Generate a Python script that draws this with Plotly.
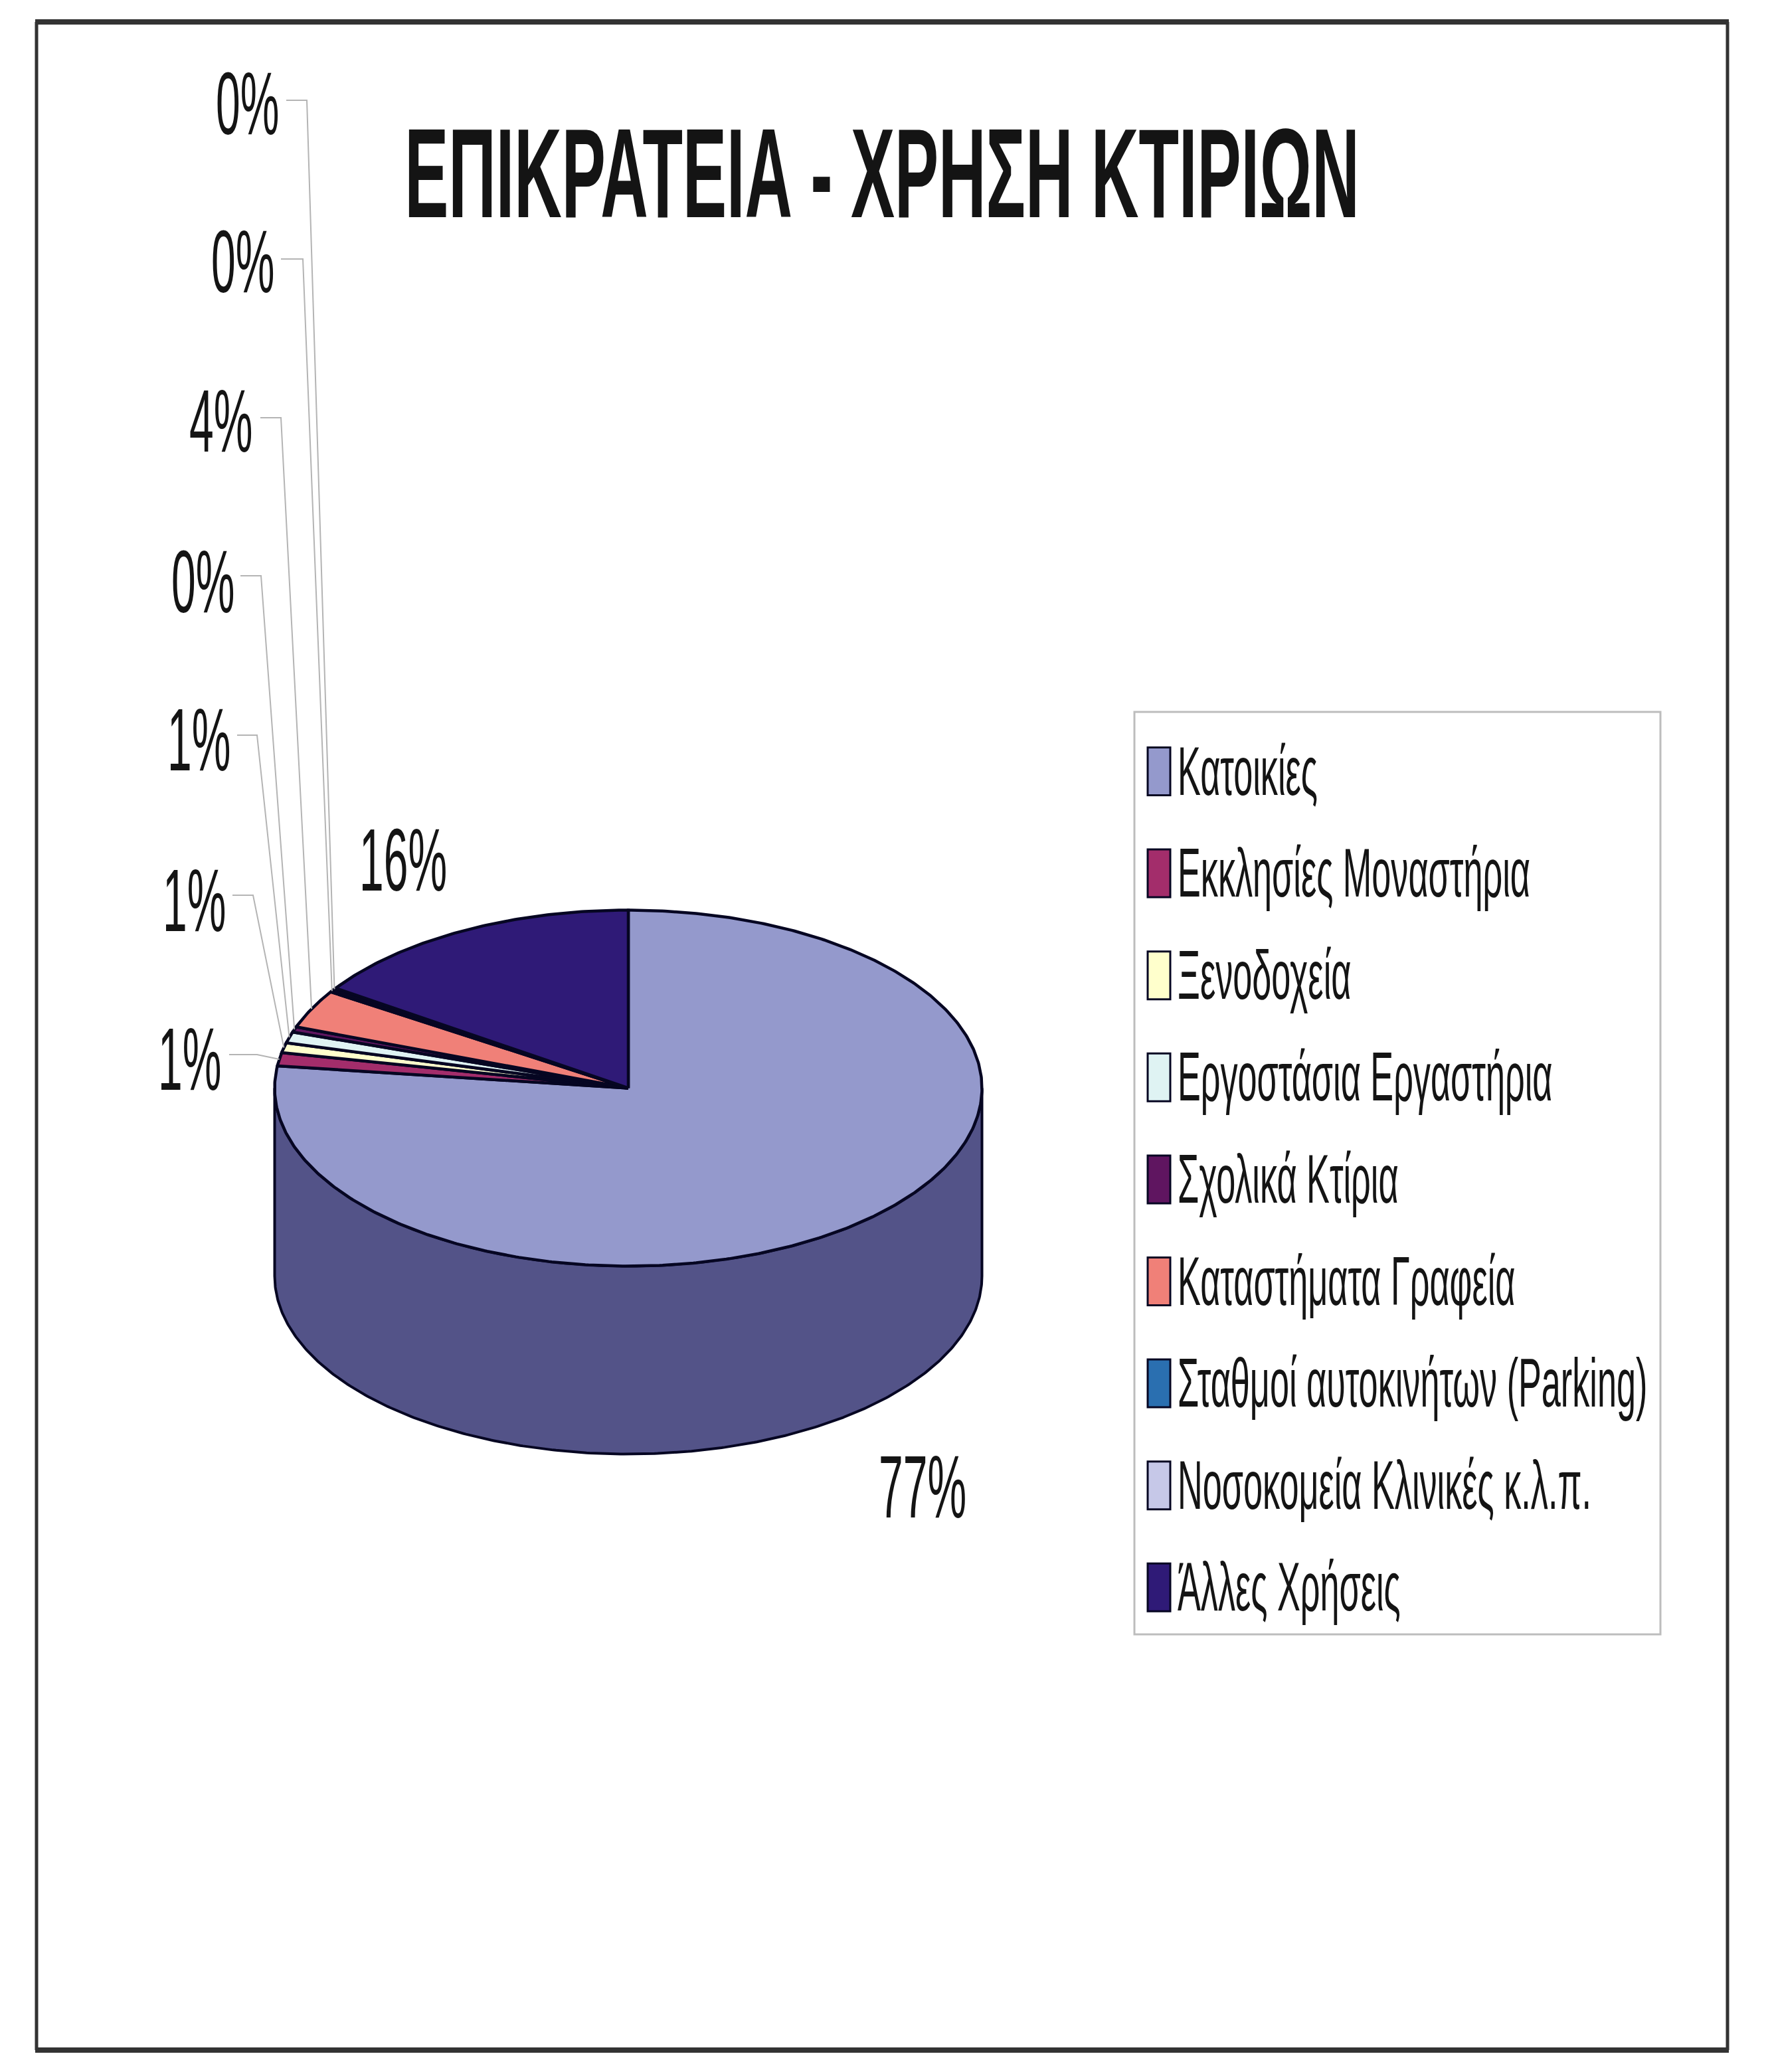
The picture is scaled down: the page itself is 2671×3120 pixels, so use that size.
import numpy as np
import plotly.graph_objects as go

W, H = 2671, 3120

# ---- data ----
categories = ["Κατοικίες", "Εκκλησίες Μοναστήρια", "Ξενοδοχεία", "Εργοστάσια Εργαστήρια",
              "Σχολικά Κτίρια", "Καταστήματα Γραφεία", "Σταθμοί αυτοκινήτων (Parking)",
              "Νοσοκομεία Κλινικές κ.λ.π.", "Άλλες Χρήσεις"]
values = [77.0, 1.2, 0.9, 1.0, 0.49, 3.5, 0.2, 0.2, 15.51]
colors = ["#9499CC", "#A32D6B", "#FFFFCC", "#DFF3F3", "#5F1560", "#F08078", "#2A6FB0", "#C6C8E8", "#2F1A77"]
side_colors = ["#535388", "#6A1C45", "#A5A585", "#90A0A0", "#3D0E3E", "#9C534E", "#1B4872", "#808296", "#1E114D"]

# ---- geometry (pixel layout of the pie) ----
CX, CY, RX, RY, DEPTH = 946, 1638.5, 532.5, 268, 283
EDGE = "#060622"
# label centres, same order as values
label_x = [1389, 285, 292, 299, 305, 332, 365, 372, 607]
label_y = [2238, 1594, 1355, 1113, 875, 633, 393, 155, 1294]
# grey leader: tick start, elbow and the height of the tick (None: no leader)
leader_x = [None, 345, 350, 357, 362, 392, 423, 431, None]
leader_elbow = [None, 387, 381, 387, 393, 423, 456, 462, None]
leader_y = [None, 1588, 1348, 1107, 867, 629, 390, 151, None]

fig = go.Figure()


def px_x(px):
    return (px - CX) / RX


def px_y(py):
    return (CY - py) / RY


def to_arc(a0, a1):
    t = np.radians(np.linspace(a0, a1, max(int(abs(a1 - a0) * 2), 2)))
    return np.sin(t), np.cos(t)


fractions = np.array(values) / sum(values)
ends = np.cumsum(fractions) * 360
starts = ends - fractions * 360
mids = (starts + ends) / 2
depth_u = DEPTH / RY

# side wall: only the front half of the cylinder (90..270 degrees clockwise from top)
for i, name in enumerate(categories):
    a0, a1 = max(starts[i], 90), min(ends[i], 270)
    if a1 <= a0:
        continue
    x, y = to_arc(a0, a1)
    fig.add_trace(go.Scatter(
        x=np.r_[x, x[::-1], x[0]], y=np.r_[y, y[::-1] - depth_u, y[0]],
        mode="lines", fill="toself", fillcolor=side_colors[i],
        line=dict(color=EDGE, width=4), name=name, hoverinfo="skip", showlegend=False))

# top face
for i, name in enumerate(categories):
    x, y = to_arc(starts[i], ends[i])
    fig.add_trace(go.Scatter(
        x=np.r_[0, x, 0], y=np.r_[0, y, 0],
        mode="lines", fill="toself", fillcolor=colors[i],
        line=dict(color=EDGE, width=4.5), name=name, hoverinfo="text",
        text=f"{name}: {values[i]:.0f}%", showlegend=False))

# leader lines
for i in range(len(values)):
    if leader_x[i] is None:
        continue
    m = np.radians(mids[i])
    fig.add_trace(go.Scatter(
        x=[px_x(leader_x[i]), px_x(leader_elbow[i]), np.sin(m)],
        y=[px_y(leader_y[i]), px_y(leader_y[i]), np.cos(m)],
        mode="lines", line=dict(color="#B4B4B4", width=2), hoverinfo="skip", showlegend=False))

annotations = []
for i in range(len(values)):
    annotations.append(dict(
        xref="paper", yref="paper", x=label_x[i] / W, y=1 - label_y[i] / H,
        xanchor="center", yanchor="middle", showarrow=False, align="center",
        text=f"{values[i]:.0f}%",
        font=dict(family="Liberation Sans", size=66, color="#141414")))

# ---- frame and legend, drawn to the reference's tall swatch proportions ----
FR_L, FR_R, FR_T, FR_B = 55, 2601, 33, 3087
LEG_L, LEG_R, LEG_T, LEG_B = 1708, 2500, 1072, 2461
ROW0, ROW_STEP = 1161.5, 153.6


def hline(x0, x1, y, color, width):
    return dict(type="line", xref="paper", yref="paper", x0=x0 / W, x1=x1 / W, y0=1 - y / H, y1=1 - y / H,
                line=dict(color=color, width=width), layer="below")


def vline(x, y0, y1, color, width):
    return dict(type="line", xref="paper", yref="paper", x0=x / W, x1=x / W, y0=1 - y0 / H, y1=1 - y1 / H,
                line=dict(color=color, width=width), layer="below")


shapes = [hline(FR_L - 2, FR_R + 2, FR_T, "#333333", 8), hline(FR_L - 2, FR_R + 2, FR_B, "#333333", 8),
          vline(FR_L, FR_T, FR_B, "#333333", 5), vline(FR_R, FR_T, FR_B, "#333333", 5),
          dict(type="rect", xref="paper", yref="paper", x0=LEG_L / W, x1=LEG_R / W, y0=1 - LEG_T / H, y1=1 - LEG_B / H,
               line=dict(color="#BDBDBD", width=3), layer="below")]
for i, name in enumerate(categories):
    yc = ROW0 + i * ROW_STEP
    shapes.append(dict(type="rect", xref="paper", yref="paper", x0=1728 / W, x1=1762 / W,
                       y0=1 - (yc - 36) / H, y1=1 - (yc + 36) / H, fillcolor=colors[i],
                       line=dict(color=EDGE, width=3)))
    annotations.append(dict(
        xref="paper", yref="paper", x=1771 / W, y=1 - (yc - 1) / H, xanchor="left", yanchor="middle",
        showarrow=False, align="left", text=name,
        font=dict(family="Liberation Sans", size=52.2, color="#141414")))

fig.update_layout(
    width=W, height=H, margin=dict(l=0, r=0, t=0, b=0), autosize=False,
    paper_bgcolor="white", plot_bgcolor="white", showlegend=False,
    title=dict(text="ΕΠΙΚΡΑΤΕΙΑ - ΧΡΗΣΗ ΚΤΙΡΙΩΝ", x=1328 / W, y=1 - 260 / H, xanchor="center", yanchor="middle",
               font=dict(family="Liberation Sans", size=99, color="#141414", weight="bold")),
    xaxis=dict(range=[-CX / RX, (W - CX) / RX], domain=[0, 1], visible=False, fixedrange=True),
    yaxis=dict(range=[(CY - H) / RY, CY / RY], domain=[0, 1], visible=False, fixedrange=True),
    annotations=annotations, shapes=shapes)

# The reference's lettering is tall and condensed: stretch each text vertically about its centre.
post = """
document.body.style.margin = '0';
document.querySelectorAll('.annotation-text, .gtitle').forEach(function (t) {
  var b = t.getBBox(), cy = b.y + b.height / 2;
  var k = t.classList.contains('gtitle') ? 1.94 : (t.textContent.slice(-1) === '%' ? 2.03 : 2.0);
  var old = t.getAttribute('transform') || '';
  t.setAttribute('transform', old + ' translate(0 ' + cy + ') scale(1 ' + k + ') translate(0 ' + (-cy) + ')');
});
"""
fig.write_html("out.html", post_script=post, config=dict(displayModeBar=False))
